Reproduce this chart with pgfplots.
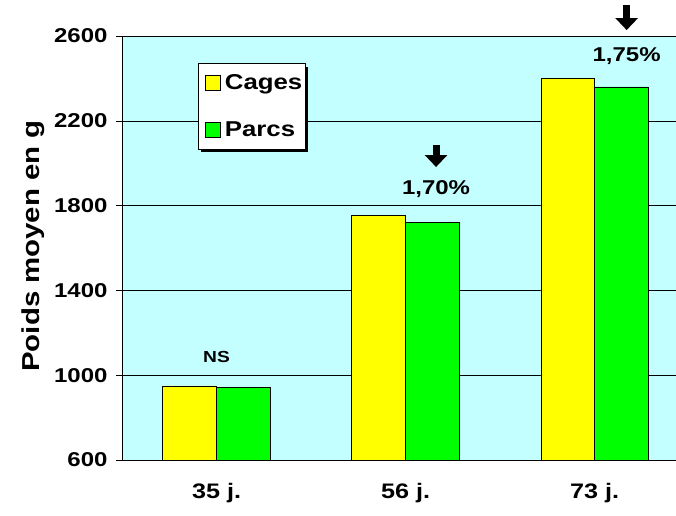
\documentclass[border=0pt]{standalone}
\usepackage{pgfplots}
\pgfplotsset{compat=1.18}
\usepackage{fontspec}
\setmainfont{Liberation Sans}[FakeStretch=1.2]
\usetikzlibrary{arrows.meta,shadows}

\definecolor{bgcyan}{HTML}{C4FFFF}
\definecolor{barY}{HTML}{FFFF00}
\definecolor{barG}{HTML}{00FF00}

\makeatletter
\tikzset{no preactions/.code={\let\tikz@preactions\pgfutil@empty}}
\makeatother

\begin{document}
\begin{tikzpicture}
\begin{axis}[
    at={(0,0)}, anchor=south west,
    scale only axis, width=554pt, height=424pt,
    axis background/.style={fill=bgcyan},
    axis x line*=bottom, axis y line*=left,
    axis line style={black, line width=0.6pt},
    ymin=600, ymax=2600, ytick={600,1000,...,2600},
    ymajorgrids, major grid style={black, line width=0.6pt},
    ytick style={black, line width=0.6pt}, tick align=outside, major tick length=6pt,
    xmin=-0.5, xmax=2.43,
    xtick={0,1,2}, xticklabels={35 j., 56 j., 73 j.},
    x tick style={draw=none},
    extra x ticks={0.5,1.5}, extra x tick labels={},
    extra x tick style={grid=none, tick style={draw=black, line width=0.6pt}},
    /pgf/number format/assume math mode=true,
    /pgf/number format/1000 sep={},
    yticklabel style={font=\fontsize{20}{24}\selectfont\bfseries, xshift=-5pt},
    xticklabel style={font=\fontsize{21}{25}\selectfont\bfseries, yshift=-14pt},
    ylabel={Poids moyen en g},
    ylabel style={font=\fontsize{24.5}{28}\selectfont\bfseries, at={(axis description cs:-0.161,0.505)}, anchor=center, rotate=0},
    ybar=0pt, bar width=0.285,
    clip=false,
    legend cell align=left,
    legend style={at={(axis description cs:0.137,0.936)}, anchor=north west,
        draw=black, line width=0.8pt, fill=white,
        font=\fontsize{21.5}{25}\selectfont\bfseries,
        drop shadow={shadow xshift=3pt, shadow yshift=-3pt, fill=black, opacity=1},
        row sep=27pt, inner xsep=1pt, inner ysep=9pt},
    legend image code/.code={\path[no preactions] (0pt,0pt) (23pt,0pt); \draw[#1, no preactions, draw=black, line width=0.5pt] (6pt,-7pt) rectangle (21pt,8pt);},
]
\addplot[fill=barY, draw=black, line width=0.6pt] coordinates {(0,950) (1,1755) (2,2400)};
\addplot[fill=barG, draw=black, line width=0.6pt] coordinates {(0,943) (1,1722) (2,2360)};
\legend{Cages, Parcs}

\node[font=\fontsize{16}{18}\selectfont\bfseries] at (axis cs:0,1086) {NS};
\node[font=\fontsize{20}{24}\selectfont\bfseries] at (axis cs:1.161,1878) {1,70\%};
\node[font=\fontsize{20}{24}\selectfont\bfseries] at (axis cs:2.169,2506) {1,75\%};
\draw[line width=7pt, -{Triangle[length=12pt,width=22pt]}] (axis cs:1.161,2086) -- (axis cs:1.161,1982);
\draw[line width=7pt, -{Triangle[length=12pt,width=22pt]}] (axis cs:2.169,2746) -- (axis cs:2.169,2628);
\end{axis}
\pgfresetboundingbox
\path (-122pt,-55pt) rectangle (554pt,460pt);
\end{tikzpicture}
\end{document}
